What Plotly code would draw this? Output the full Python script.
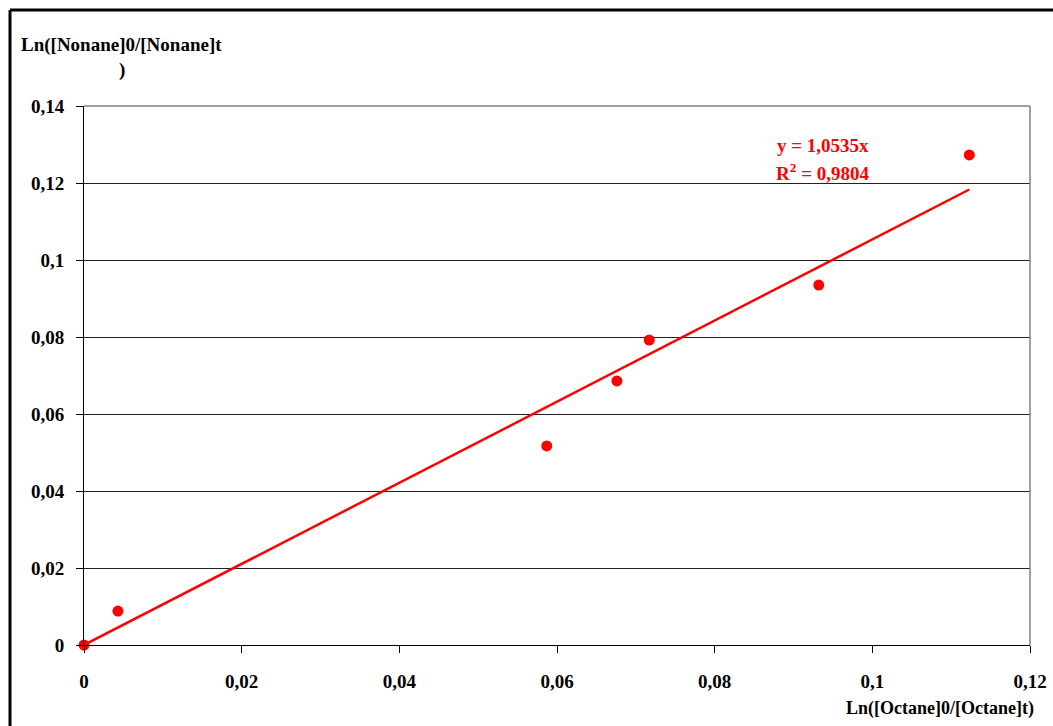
import plotly.graph_objects as go
import numpy as np

x_octane = [0.0, 0.0043, 0.0587, 0.0676, 0.0717, 0.0932, 0.1123]
y_nonane = [0.0, 0.0088, 0.0517, 0.0686, 0.0792, 0.0935, 0.1273]
slope = 1.0535
r2 = 0.9804
x_ticks = [0, 0.02, 0.04, 0.06, 0.08, 0.1, 0.12]
y_ticks = [0, 0.02, 0.04, 0.06, 0.08, 0.1, 0.12, 0.14]

FONT = "Liberation Serif"
RED = "#ff0000"

# plot area in reference pixels: x 84..1030, y 106..645
def px(xp):
    return (xp - 84) / 946

def py(yp):
    return (645 - yp) / 539

fit_x = np.array([0.0, max(x_octane)])
fit_y = slope * fit_x

fig = go.Figure()
fig.add_trace(go.Scatter(x=fit_x, y=fit_y, mode="lines",
                         line=dict(color=RED, width=2.5), cliponaxis=False,
                         showlegend=False, hoverinfo="skip"))
fig.add_trace(go.Scatter(x=x_octane, y=y_nonane, mode="markers",
                         marker=dict(color=RED, size=11), cliponaxis=False,
                         showlegend=False))

tickfont = dict(family=FONT, size=19, color="black", weight="bold")
fig.update_xaxes(range=[0, 0.12], tickvals=x_ticks, showgrid=False,
                 showline=True, linecolor="black", linewidth=1,
                 ticks="outside", ticklen=7, tickcolor="black",
                 tickfont=tickfont, ticklabelstandoff=12, zeroline=False,
                 automargin=False)
fig.update_yaxes(range=[0, 0.14], tickvals=y_ticks, showgrid=True,
                 gridcolor="#222222", gridwidth=1,
                 showline=True, linecolor="black", linewidth=1,
                 ticks="outside", ticklen=7, tickcolor="black",
                 tickfont=tickfont, ticklabelstandoff=8, zeroline=False,
                 automargin=False)

fig.update_layout(
    width=1053, height=726,
    margin=dict(l=84, r=23, t=106, b=81, autoexpand=False),
    plot_bgcolor="white", paper_bgcolor="white",
    separators=", ",
    font=dict(family=FONT, color="black"),
    shapes=[
        dict(type="line", xref="paper", yref="paper", x0=1, x1=1, y0=0, y1=1,
             line=dict(color="#808080", width=1.5)),
        dict(type="line", xref="paper", yref="paper", x0=0, x1=1, y0=1, y1=1,
             line=dict(color="#808080", width=1.5)),
        dict(type="line", xref="paper", yref="paper", x0=px(10), x1=px(10),
             y0=py(730), y1=py(10), line=dict(color="black", width=3)),
        dict(type="line", xref="paper", yref="paper", x0=px(10), x1=px(1060),
             y0=py(10), y1=py(10), line=dict(color="black", width=3)),
    ],
    annotations=[
        dict(text="<b>Ln([Nonane]0/[Nonane]t</b>", xref="paper", yref="paper",
             x=px(121), y=py(45), xanchor="center", yanchor="middle",
             showarrow=False, font=dict(family=FONT, size=19, color="black")),
        dict(text="<b>)</b>", xref="paper", yref="paper",
             x=px(122), y=py(70), xanchor="center", yanchor="middle",
             showarrow=False, font=dict(family=FONT, size=19, color="black")),
        dict(text="<b>Ln([Octane]0/[Octane]t)</b>", xref="paper", yref="paper",
             x=px(1036), y=py(708), xanchor="right", yanchor="middle",
             showarrow=False, font=dict(family=FONT, size=18, color="black")),
        dict(text="<b>y = %sx</b>" % f"{slope:.4f}".replace(".", ","),
             xref="paper", yref="paper",
             x=px(823), y=py(146), xanchor="center", yanchor="middle",
             showarrow=False, font=dict(family=FONT, size=19, color=RED)),
        dict(text="<b>R<sup>2</sup> = %s</b>" % f"{r2:.4f}".replace(".", ","),
             xref="paper", yref="paper",
             x=px(822), y=py(172), xanchor="center", yanchor="middle",
             showarrow=False, font=dict(family=FONT, size=19, color=RED)),
    ],
)

fig.write_html(
    "out.html",
    config={"displayModeBar": False},
    post_script="document.body.style.margin='0';document.body.style.overflow='hidden';",
)
